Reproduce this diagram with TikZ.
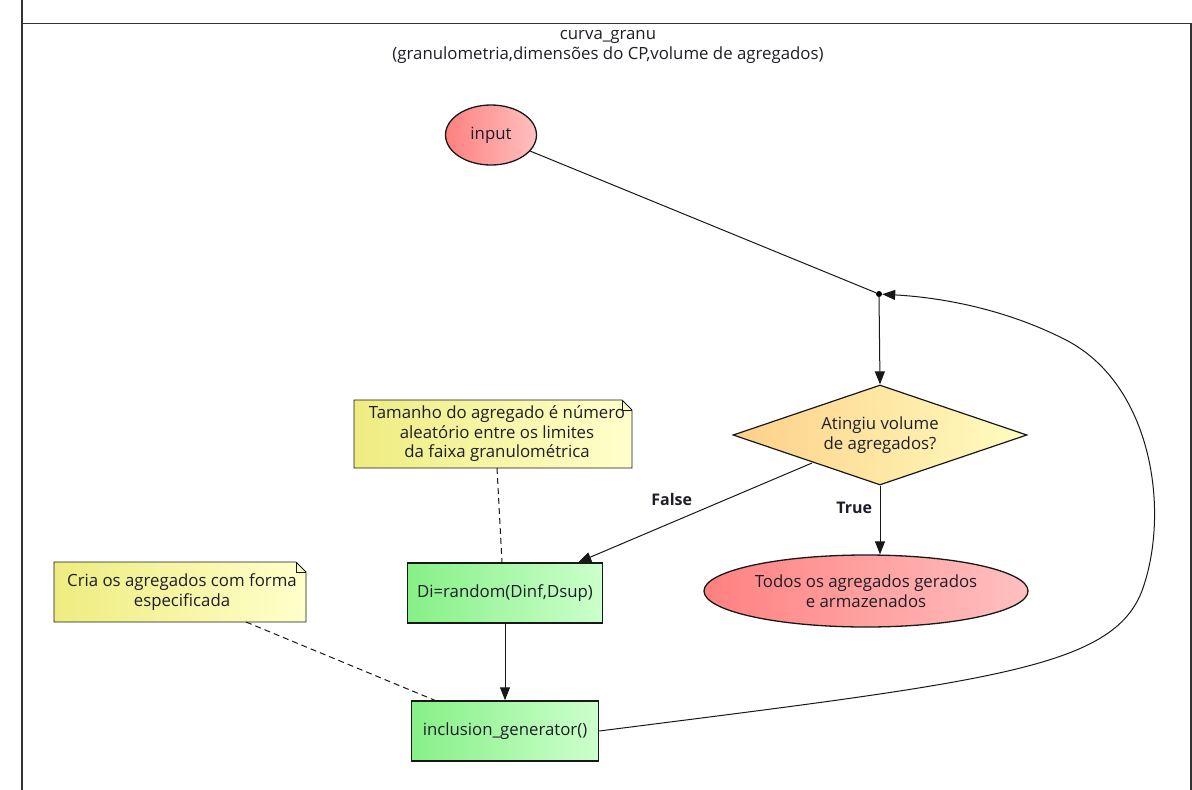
\documentclass[tikz,border=0pt]{standalone}
\usepackage{fontspec}
\setmainfont{Open Sans}
\usetikzlibrary{shapes.geometric,arrows.meta,calc}
\definecolor{txt}{HTML}{1E1E28}
\definecolor{edge}{HTML}{181818}
\definecolor{redL}{HTML}{FF8080}
\definecolor{redR}{HTML}{FFC0C0}
\definecolor{grnL}{HTML}{86F086}
\definecolor{grnR}{HTML}{CCFFCC}
\definecolor{orgL}{HTML}{FDD088}
\definecolor{orgR}{HTML}{FFFDC0}
\definecolor{notL}{HTML}{EEEC80}
\definecolor{notR}{HTML}{FFFFCC}
\tikzset{
  every node/.style={font=\fontsize{16.8}{20}\selectfont, text=txt, align=center},
  startend/.style={ellipse, draw=edge, line width=1.3pt, left color=redL, right color=redR, inner sep=0pt},
  action/.style={rectangle, draw=edge, line width=1.5pt, left color=grnL, right color=grnR, inner sep=0pt},
  decision/.style={diamond, aspect=2.92, draw=edge, line width=1.2pt, left color=orgL, right color=orgR, inner sep=0pt},
  notetext/.style={inner sep=0pt, font=\fontsize{16.8}{19.5}\selectfont},
  notebox/.style={left color=notL, right color=notR, draw=edge, line width=0.9pt},
  flow/.style={draw=edge, line width=1pt, -{Triangle[length=13pt,width=10pt]}},
  noteline/.style={draw=edge, line width=1pt, dash pattern=on 6pt off 4pt},
  lbl/.style={font=\bfseries\fontsize{16}{19}\selectfont},
  frame/.style={draw=black!80, line width=1.8pt},
}
\begin{document}
\begin{tikzpicture}[x=1pt,y=-1pt]
\useasboundingbox (0,0) rectangle (1192,790);
% frame
\draw[frame] (22,0) -- (22,790);
\draw[frame] (22,23.5) -- (1192,23.5);
\draw[frame] (1191,23.5) -- (1191,790);
\node (title) at (608,47) {curva\_granu\\(granulometria,dimensões do CP,volume de agregados)};

% nodes
\node[startend, minimum width=91pt, minimum height=60pt] (input) at (491,135) {input};
\node[circle, fill=black, inner sep=0pt, minimum size=6pt] (dot) at (879,294) {};
\node[decision, minimum width=294pt, minimum height=100pt] (dec) at (880,435) {Atingiu volume\\de agregados?};
\node[startend, minimum width=324pt, minimum height=72pt] (todos) at (866,591) {Todos os agregados gerados\\e armazenados};
\node[action, minimum width=195pt, minimum height=60pt] (di) at (505,593) {Di=random(Dinf,Dsup)};
\node[action, minimum width=187pt, minimum height=60pt] (inc) at (505,731) {inclusion\_generator()};

% notes
\shade[notebox] (354,468) -- (354,400) -- (622,400) -- (632,410) -- (632,468) -- cycle;
\draw[draw=edge, line width=0.9pt] (622,400) -- (622,410) -- (632,410);
\node[notetext] (note1) at (497,434) {Tamanho do agregado é número\\aleatório entre os limites\\da faixa granulométrica};

\shade[notebox] (54,622) -- (54,562) -- (296,562) -- (306,572) -- (306,622) -- cycle;
\draw[draw=edge, line width=0.9pt] (296,562) -- (296,572) -- (306,572);
\node[notetext] (note2) at (182,592) {Cria os agregados com forma\\especificada};

\coordinate (n1b) at (497,468);
\coordinate (n2b) at (246,622);
\coordinate (decf) at (812,463);

% connectors
\draw[draw=edge, line width=1pt] (input) -- (dot);
\draw[flow] (dot) -- (dec.north);
\draw[flow] (dec.south) -- (todos.north -| dec.south) node[lbl, pos=0.33, anchor=east, xshift=-4pt] {True};
\draw[flow] (decf) -- ($(di.north east)+(-25,0)$) node[lbl, pos=0.6, yshift=23pt] {False};
\draw[flow] (di.south) -- (inc.north);
\draw[noteline] (n1b) -- ($(di.north)+(-3,0)$);
\draw[noteline] (n2b) -- ($(inc.north west)+(24,0)$);
\draw[flow] (inc.east) .. controls (1000,680) and (1118,668) .. (1144,585)
  .. controls (1170,505) and (1150,380) .. (1062,338)
  .. controls (1010,312) and (950,298) .. (dot);
\end{tikzpicture}
\end{document}
